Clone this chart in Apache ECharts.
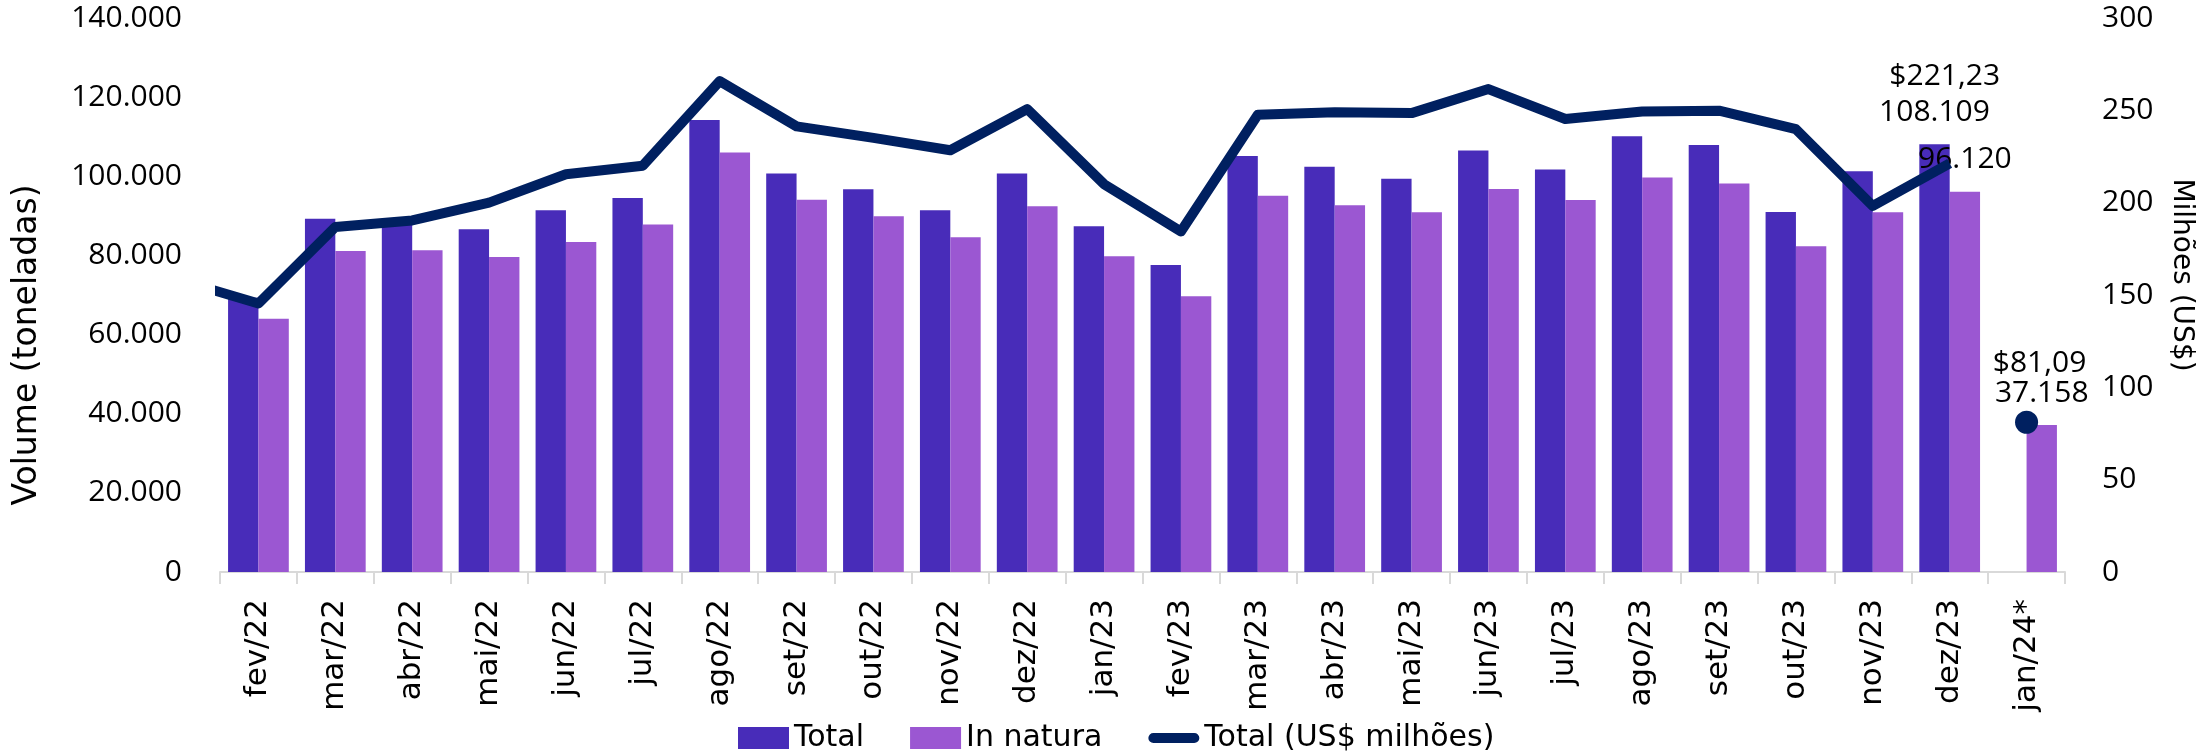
<!DOCTYPE html>
<html style="height: 100%">
<head>
    <meta charset="utf-8">
</head>
<body style="margin: 0; height: 100%; background: #fff">
<div id="container" style="width: 2203px; height: 752px"></div>
<script src="https://cdn.jsdelivr.net/npm/echarts@6/dist/echarts.min.js"></script>
<script type="text/javascript">
    // meses do eixo x
    var categories = ['fev/22', 'mar/22', 'abr/22', 'mai/22', 'jun/22', 'jul/22', 'ago/22', 'set/22',
        'out/22', 'nov/22', 'dez/22', 'jan/23', 'fev/23', 'mar/23', 'abr/23', 'mai/23', 'jun/23',
        'jul/23', 'ago/23', 'set/23', 'out/23', 'nov/23', 'dez/23', 'jan/24'];
    // volume total (toneladas)
    var volTotal = [69300, 89300, 89000, 86600, 91400, 94500, 114200, 100700, 96700, 91400, 100700,
        87400, 77600, 105100, 102400, 99400, 106500, 101700, 110100, 107900, 91000, 101300, 108109, null];
    // volume in natura (toneladas)
    var volInNatura = [64000, 81100, 81300, 79600, 83400, 87800, 106000, 94100, 89900, 84600, 92400,
        79800, 69700, 95100, 92700, 90900, 96800, 94000, 99700, 98200, 82300, 90900, 96120, 37158];
    // valor total (US$ milhoes), fev/22 a dez/23; jan/22 so aparece como ponta cortada
    var usdPrev = 157.7;
    var usdTotal = [145.4, 186.8, 190.4, 200.0, 215.4, 220.0, 265.8, 241.3, 235.1, 228.4, 250.7,
        210.0, 184.4, 247.6, 248.9, 248.5, 261.5, 245.3, 249.4, 249.8, 239.8, 198.2, 221.23];
    // jan/24 (parcial) fica como ponto solto
    var usdJan24 = 81.09;
    var leftTicks = [0, 20000, 40000, 60000, 80000, 100000, 120000, 140000];
    var rightTicks = [0, 50, 100, 150, 200, 250, 300];

    var NUM_FONT = 'Open Sans';
    var TXT_FONT = 'DejaVu Sans';
    var last = categories.length - 1;

    function milhar(v) {
        return String(Math.round(v)).replace(/\B(?=(\d{3})+(?!\d))/g, '.');
    }
    function dolar(v) {
        return '$' + v.toFixed(2).replace('.', ',');
    }

    var barLabel = {
        show: true, position: 'top', distance: 17,
        fontFamily: NUM_FONT, fontSize: 30, color: '#000',
        formatter: function (p) { return milhar(p.value); }
    };

    // so os dois ultimos meses tem rotulo
    var totalData = volTotal.map(function (v, i) {
        return i === last - 1 ? {value: v, label: barLabel} : v;
    });
    var naturaData = volInNatura.map(function (v, i) {
        return i >= last - 1 ? {value: v, label: barLabel} : v;
    });

    var lineData = [usdPrev].concat(usdTotal.map(function (v, i) {
        if (i === usdTotal.length - 1) {
            return {
                value: v,
                label: {
                    show: true, position: 'top', distance: 72, offset: [-5, 0],
                    fontFamily: NUM_FONT, fontSize: 30, color: '#000',
                    formatter: function (p) { return dolar(p.value); }
                }
            };
        }
        return v;
    }));
    lineData.push(null);

    var dotData = categories.map(function (c, i) {
        return i === last ? usdJan24 : null;
    });

    var dom = document.getElementById('container');
    var myChart = echarts.init(dom);
    var option;

    option = {
        animation: false,
        textStyle: {fontFamily: TXT_FONT},
        legend: {
            data: [
                {name: 'Total', icon: 'rect'},
                {name: 'In natura', icon: 'rect'},
                {name: 'Total (US$ milhões)', icon: 'path://M6,0 L54,0 A6,6 0 0 1 54,12 L6,12 A6,6 0 0 1 6,0 Z'}
            ],
            left: 733,
            top: 718,
            itemWidth: 51,
            itemHeight: 22,
            itemGap: 46,
            textStyle: {fontFamily: TXT_FONT, fontSize: 30, color: '#000'}
        },
        grid: {
            left: 220,
            right: 136,
            top: 18,
            bottom: 180
        },
        xAxis: [
            {
                type: 'category',
                data: categories,
                axisLine: {lineStyle: {color: '#d9d9d9', width: 2}},
                axisTick: {show: true, length: 12, lineStyle: {color: '#d9d9d9', width: 2}},
                axisLabel: {
                    rotate: 90,
                    margin: 27,
                    fontFamily: TXT_FONT,
                    fontSize: 31,
                    color: '#000',
                    interval: 0,
                    formatter: function (v) {
                        return v === 'jan/24' ? v + '*' : v;
                    }
                }
            },
            {
                // eixo escondido com jan/22 fora da area, so para a linha
                type: 'category',
                data: ['jan/22'].concat(categories),
                min: 1,
                max: categories.length,
                show: false
            }
        ],
        yAxis: [
            {
                type: 'value',
                min: leftTicks[0],
                max: leftTicks[leftTicks.length - 1],
                interval: leftTicks[1] - leftTicks[0],
                name: 'Volume (toneladas)',
                nameLocation: 'middle',
                nameGap: 176,
                nameTextStyle: {fontFamily: TXT_FONT, fontSize: 33, color: '#000', padding: [0, 100, 0, 0]},
                splitLine: {show: false},
                axisLine: {show: false},
                axisTick: {show: false},
                axisLabel: {
                    margin: 38,
                    fontFamily: NUM_FONT,
                    fontSize: 30,
                    color: '#000',
                    formatter: function (v) { return milhar(v); }
                }
            },
            {
                type: 'value',
                min: rightTicks[0],
                max: rightTicks[rightTicks.length - 1],
                interval: rightTicks[1] - rightTicks[0],
                name: 'Milhões (US$)',
                nameLocation: 'middle',
                nameRotate: -90,
                nameGap: 102,
                nameTextStyle: {fontFamily: TXT_FONT, fontSize: 28, color: '#000', padding: [0, 40, 0, 0]},
                splitLine: {show: false},
                axisLine: {show: false},
                axisTick: {show: false},
                axisLabel: {
                    margin: 37,
                    fontFamily: NUM_FONT,
                    fontSize: 30,
                    color: '#000'
                }
            }
        ],
        series: [
            {
                name: 'Total',
                type: 'bar',
                barGap: '0%',
                barCategoryGap: '21%',
                itemStyle: {color: '#482CB9'},
                data: totalData
            },
            {
                name: 'In natura',
                type: 'bar',
                itemStyle: {color: '#9B57D2'},
                data: naturaData
            },
            {
                name: 'Total (US$ milhões)',
                type: 'line',
                xAxisIndex: 1,
                yAxisIndex: 1,
                symbol: 'circle',
                symbolSize: 0.1,
                showSymbol: true,
                connectNulls: false,
                lineStyle: {color: '#002060', width: 10, join: 'round'},
                itemStyle: {color: '#002060'},
                z: 3,
                data: lineData
            },
            {
                name: 'jan24',
                type: 'scatter',
                yAxisIndex: 1,
                symbolSize: 23,
                itemStyle: {color: '#002060', opacity: 1},
                label: {
                    show: true, position: 'top', distance: 32, offset: [13, 0],
                    fontFamily: NUM_FONT, fontSize: 30, color: '#000',
                    formatter: function (p) { return dolar(p.value); }
                },
                z: 4,
                data: dotData
            }
        ]
    };

    if (option && typeof option === 'object') {
        myChart.setOption(option);
    }
</script>
</body>
</html>
